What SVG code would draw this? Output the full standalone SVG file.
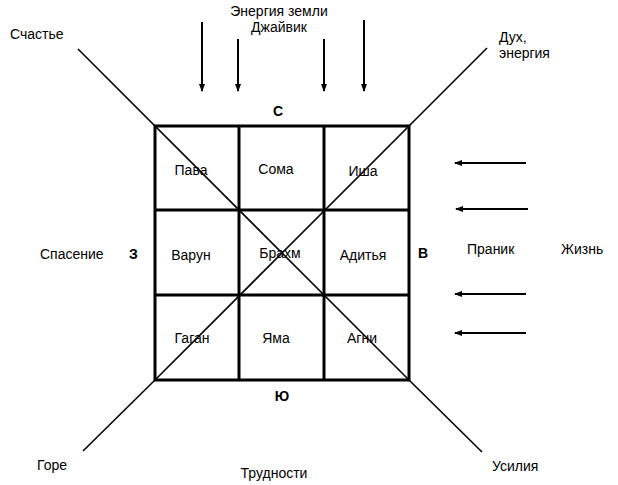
<svg xmlns="http://www.w3.org/2000/svg" width="618" height="485" viewBox="0 0 618 485">
<style>
text{font-family:"Liberation Sans",Arial,sans-serif;font-size:14px;fill:#000}
.c{text-anchor:middle}
.b{font-weight:bold;font-size:14px}
.grid{stroke:#000;stroke-width:3;fill:none}
.diag{stroke:#000;stroke-width:1.6;fill:none}
.arr{stroke:#000;stroke-width:2;fill:none;marker-end:url(#ah)}
</style>
<defs>
<marker id="ah" markerWidth="8" markerHeight="8" refX="7" refY="4" orient="auto" markerUnits="userSpaceOnUse" viewBox="0 0 8 8">
<path d="M0,1 L8,4 L0,7 Z" fill="#000"/>
</marker>
</defs>
<rect width="618" height="485" fill="#fff"/>
<g id="connectors">
<line class="diag" x1="78" y1="49" x2="409" y2="380"/>
<line class="diag" x1="487" y1="48" x2="155" y2="380"/>
<line class="diag" x1="155" y1="380" x2="83" y2="451"/>
<line class="diag" x1="409" y1="380" x2="482" y2="452"/>
<line class="arr" x1="202" y1="22" x2="202" y2="91"/>
<line class="arr" x1="238" y1="39" x2="238" y2="91"/>
<line class="arr" x1="324" y1="39" x2="324" y2="91"/>
<line class="arr" x1="364" y1="20" x2="364" y2="91"/>
<line class="arr" x1="526" y1="163" x2="455" y2="163"/>
<line class="arr" x1="528" y1="209" x2="456" y2="209"/>
<line class="arr" x1="526" y1="294" x2="455" y2="294"/>
<line class="arr" x1="526" y1="333" x2="455" y2="333"/>
</g>
<g id="grid">
<rect class="grid" x="155" y="126" width="254" height="254"/>
<line class="grid" x1="239" y1="126" x2="239" y2="380"/>
<line class="grid" x1="324" y1="126" x2="324" y2="380"/>
<line class="grid" x1="155" y1="210" x2="409" y2="210"/>
<line class="grid" x1="155" y1="295" x2="409" y2="295"/>
</g>
<g id="cells">
<g id="pava"><text class="c" x="191" y="175">Пава</text></g>
<g id="soma"><text class="c" x="276" y="174">Сома</text></g>
<g id="isha"><text class="c" x="363" y="176">Иша</text></g>
<g id="varun"><text class="c" x="191" y="260">Варун</text></g>
<g id="brahm"><text class="c" x="280" y="258">Брахм</text></g>
<g id="aditya"><text class="c" x="363" y="260">Адитья</text></g>
<g id="gagan"><text class="c" x="192" y="343">Гаган</text></g>
<g id="yama"><text class="c" x="276" y="343">Яма</text></g>
<g id="agni"><text class="c" x="362" y="343">Агни</text></g>
</g>
<g id="labels">
<text x="10" y="39">Счастье</text>
<text class="c" x="279" y="16">Энергия земли</text>
<text class="c" x="279" y="32">Джайвик</text>
<text x="499" y="42">Дух,</text>
<text x="499" y="58">энергия</text>
<text class="c b" x="278" y="116">С</text>
<text x="40" y="259">Спасение</text>
<text class="b" x="129" y="259">З</text>
<text class="b" x="418" y="258">В</text>
<text x="467" y="254">Праник</text>
<text x="561" y="254">Жизнь</text>
<text class="c b" x="282" y="401">Ю</text>
<text x="37" y="470">Горе</text>
<text class="c" x="274" y="478">Трудности</text>
<text x="492" y="471">Усилия</text>
</g>
</svg>
